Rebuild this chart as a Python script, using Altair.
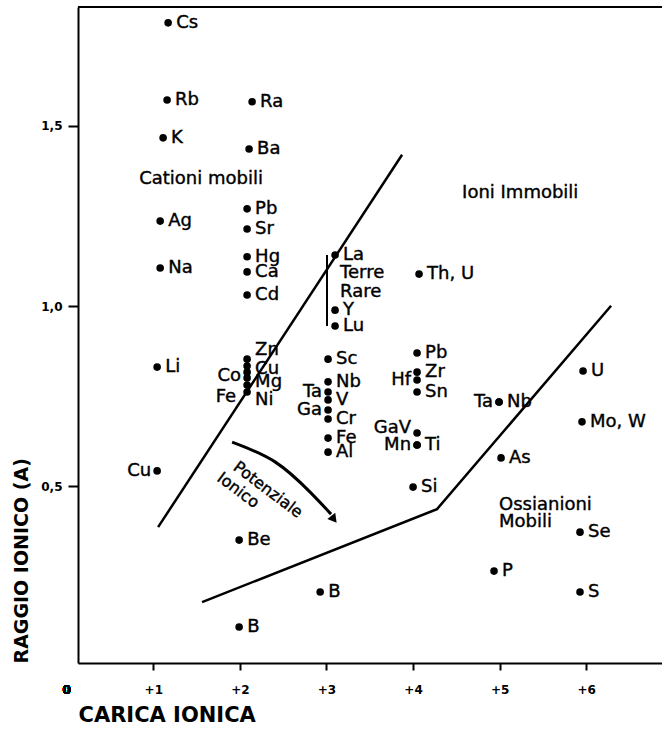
import altair as alt
import pandas as pd

# ---------------- data ----------------
ion_names = ["Cs", "Rb", "K", "Ag", "Na", "Li", "Cu",
             "Ra", "Ba", "Pb", "Sr", "Hg", "Ca", "Cd", "Zn", "Cu", "Co", "Mg", "Fe", "Ni", "Be", "B",
             "La", "Y", "Lu", "Sc", "Nb", "Ta", "V", "Ga", "Cr", "Fe", "Al", "B",
             "Th, U", "Pb", "Zr", "Hf", "Sn", "GaV", "Mn", "Ti", "Si",
             "Ta", "Nb", "As", "P",
             "U", "Mo, W", "Se", "S"]
ion_charge = [1, 1, 1, 1, 1, 1, 1,
              2, 2, 2, 2, 2, 2, 2, 2, 2, 2, 2, 2, 2, 2, 2,
              3, 3, 3, 3, 3, 3, 3, 3, 3, 3, 3, 3,
              4, 4, 4, 4, 4, 4, 4, 4, 4,
              5, 5, 5, 5,
              6, 6, 6, 6]
# horizontal position as read (charge, slightly offset)
ion_x = [1.171, 1.159, 1.113, 1.079, 1.079, 1.044, 1.044,
         2.141, 2.106, 2.083, 2.083, 2.083, 2.083, 2.083, 2.083, 2.083, 2.083, 2.083, 2.083, 2.083, 1.991, 1.991,
         3.099, 3.099, 3.099, 3.018, 3.018, 3.018, 3.018, 3.018, 3.018, 3.018, 3.018, 2.927,
         4.069, 4.046, 4.046, 4.046, 4.046, 4.046, 4.046, 4.046, 4.000,
         4.993, 4.993, 5.016, 4.935,
         5.963, 5.951, 5.928, 5.928]
# ionic radius (A)
ion_r = [1.786, 1.572, 1.467, 1.236, 1.106, 0.831, 0.543,
         1.567, 1.436, 1.270, 1.214, 1.137, 1.095, 1.031, 0.853, 0.834, 0.817, 0.801, 0.781, 0.762, 0.351, 0.110,
         1.142, 0.989, 0.945, 0.853, 0.790, 0.762, 0.740, 0.712, 0.687, 0.634, 0.595, 0.207,
         1.089, 0.870, 0.817, 0.795, 0.762, 0.648, 0.615, 0.615, 0.498,
         0.734, 0.734, 0.579, 0.265,
         0.820, 0.679, 0.373, 0.207]

# labels written on the left of their dot
left_labels = {"Cu1", "Co2", "Fe2", "Ta3", "Ga3", "Hf4", "GaV4", "Mn4", "Ta5"}
# pixel shifts of crowded labels (dx, dy), screen pixels
label_shift = {"Zn2": (0, -9), "Cu2": (0, 3), "Co2": (0, 4), "Mg2": (0, 4),
               "Fe2": (-5, 12), "Ni2": (0, 8), "GaV4": (0, -5)}

# boundary lines
bound_x = [1.055, 3.873, 1.563, 4.277, 6.287]
bound_y = [0.387, 1.420, 0.179, 0.437, 1.001]
bound_id = ["a", "a", "b", "b", "b"]

# "Potenziale ionico" arrow
arrow_x = [1.910, 2.406, 2.811, 3.053]
arrow_y = [0.623, 0.568, 0.484, 0.423]
arrow_head = (3.076, 0.412)

# rare-earth bracket
ree_x = 3.006

# region names
region_text = ["Cationi mobili", "Ioni Immobili", "Terre", "Rare", "Ossianioni", "Mobili"]
region_x = [0.836, 4.566, 3.157, 3.157, 4.993, 4.993]
region_y = [1.353, 1.314, 1.092, 1.039, 0.448, 0.401]

pot_text = ["Potenziale", "Ionico"]
pot_x = [1.945, 1.760]
pot_y = [0.559, 0.529]

X_MIN, X_MAX = 0.13, 6.875
Y_MIN, Y_MAX = 0.01, 1.83
W, H = 584, 656

# ---------------- tables ----------------
px_x = (X_MAX - X_MIN) / W
px_y = (Y_MAX - Y_MIN) / H
keys = [f"{n}{c}" for n, c in zip(ion_names, ion_charge)]
df = pd.DataFrame({
    "ion": ion_names, "key": keys, "x": ion_x, "r": ion_r,
    "side": ["L" if k in left_labels else "R" for k in keys],
})
df["lx"] = [x + label_shift.get(k, (0, 0))[0] * px_x for k, x in zip(keys, ion_x)]
df["ly"] = [r - label_shift.get(k, (0, 0))[1] * px_y for k, r in zip(keys, ion_r)]

bounds = pd.DataFrame({"x": bound_x, "r": bound_y, "seg": bound_id, "o": range(len(bound_x))})
arrow = pd.DataFrame({"x": arrow_x, "r": arrow_y, "o": range(len(arrow_x))})
regions = pd.DataFrame({"t": region_text, "x": region_x, "r": region_y})
pot = pd.DataFrame({"t": pot_text, "x": pot_x, "r": pot_y})

FONT = "DejaVu Sans"
TXT = dict(font=FONT, color="black", stroke="black", strokeWidth=0.4)
xs = alt.Scale(domain=[X_MIN, X_MAX], nice=False, zero=False)
ys = alt.Scale(domain=[Y_MIN, Y_MAX], nice=False, zero=False)

X = alt.X("x:Q", scale=xs, axis=alt.Axis(
    values=[1, 2, 3, 4, 5, 6], labelExpr="'+' + datum.value", title="CARICA IONICA",
    titleAnchor="start", grid=False, tickSize=7, labelPadding=14, titlePadding=9,
    titleFontSize=21, labelFontSize=12))
Y = alt.Y("r:Q", scale=ys, axis=alt.Axis(
    values=[0.5, 1.0, 1.5], format=".1f", labelExpr="replace(datum.label, '.', ',')",
    title="RAGGIO IONICO (A)", titleAnchor="start", grid=False, tickSize=10,
    labelPadding=6, titlePadding=9, titleFontSize=19, labelFontSize=12))

points = alt.Chart(df).mark_circle(size=58, color="black", opacity=1).encode(x=X, y=Y)

lab_r = alt.Chart(df).transform_filter("datum.side == 'R'").mark_text(
    align="left", baseline="middle", dx=8, fontSize=18, **TXT
).encode(x="lx:Q", y="ly:Q", text="ion:N")

lab_l = alt.Chart(df).transform_filter("datum.side == 'L'").mark_text(
    align="right", baseline="middle", dx=-6, fontSize=18, **TXT
).encode(x="lx:Q", y="ly:Q", text="ion:N")

lines = alt.Chart(bounds).mark_line(color="black", strokeWidth=2.5).encode(
    x="x:Q", y="r:Q", detail="seg:N", order="o:Q")

arc = alt.Chart(arrow).mark_line(color="black", strokeWidth=3, interpolate="natural").encode(
    x="x:Q", y="r:Q", order="o:Q")

head = alt.Chart(pd.DataFrame({"x": [arrow_head[0]], "r": [arrow_head[1]]})).mark_point(
    shape="triangle", filled=True, size=100, angle=142, color="black", opacity=1
).encode(x="x:Q", y="r:Q")

ree = alt.Chart(df).mark_rule(color="black", strokeWidth=2).encode(
    x=alt.datum(ree_x), y=alt.datum(ion_r[22]), y2=alt.datum(ion_r[24]))

reg = alt.Chart(regions).mark_text(align="left", baseline="middle", fontSize=18, **TXT).encode(
    x="x:Q", y="r:Q", text="t:N")

pot_lab = alt.Chart(pot).mark_text(align="left", baseline="middle", fontSize=16, angle=37,
                                   **TXT).encode(
    x="x:Q", y="r:Q", text="t:N")

top = alt.Chart(df).mark_rule(color="black", strokeWidth=2).encode(
    x=alt.datum(X_MIN), x2=alt.datum(X_MAX), y=alt.datum(Y_MAX))

zero = alt.Chart(df).mark_text(font=FONT, fontSize=12, fontWeight="bold", color="black",
                               baseline="middle").encode(
    x=alt.datum(0), y=alt.value(683), text=alt.value("0"))

chart = alt.layer(lines, arc, head, ree, top, points, lab_r, lab_l, reg, pot_lab, zero).properties(
    width=W, height=H,
    background="white",
    autosize=alt.AutoSizeParams(type="none"),
    padding={"left": 78, "top": 7, "right": 0, "bottom": 66},
).configure_view(stroke=None).configure_axis(
    domainColor="black", domainWidth=2, tickColor="black", tickWidth=2,
    labelFont=FONT, labelFontWeight="bold", labelColor="black",
    titleFont=FONT, titleFontWeight="bold", titleColor="black",
)

chart.save("out.html", embed_options={"renderer": "svg", "actions": False})
